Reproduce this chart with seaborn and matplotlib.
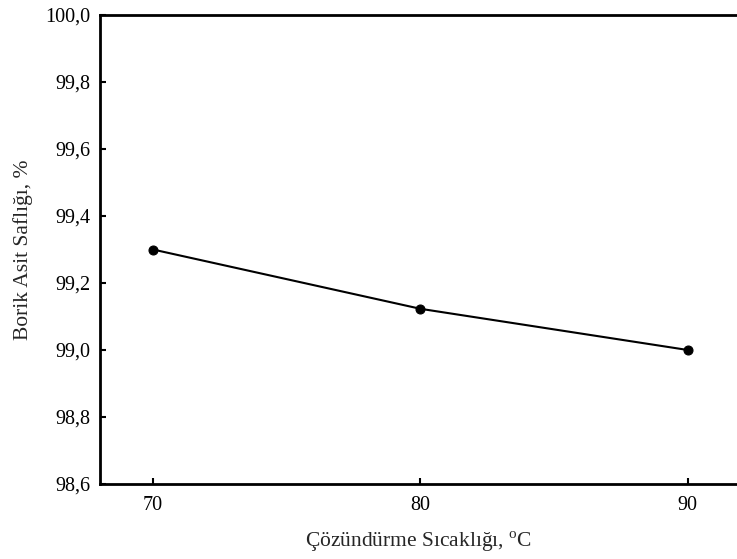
import matplotlib
matplotlib.use("Agg")
import matplotlib.pyplot as plt
import seaborn as sns
import pandas as pd

temperature = [70, 80, 90]
purity = [99.30, 99.123, 99.00]
y_ticks = [98.6, 98.8, 99.0, 99.2, 99.4, 99.6, 99.8, 100.0]
x_ticks = [70, 80, 90]

sns.set_theme(style="white")
plt.rcParams["font.family"] = ["Liberation Serif", "DejaVu Serif"]
plt.rcParams["mathtext.fontset"] = "custom"
plt.rcParams["mathtext.rm"] = "Liberation Serif"

df = pd.DataFrame({"temp": temperature, "purity": purity})

fig = plt.figure(figsize=(7.37, 5.59), dpi=100)
ax = fig.add_axes([100 / 737, 1 - 484 / 559, 1 - 100 / 737, (484 - 15) / 559])

sns.lineplot(data=df, x="temp", y="purity", ax=ax, color="black",
             marker="o", markersize=6.5, linewidth=1.5,
             markeredgecolor="black", markerfacecolor="black")

ax.set_xlim(68.02, 91.84)
ax.set_ylim(98.6, 100.0)
ax.set_xticks(x_ticks)
ax.set_yticks(y_ticks)
ax.set_yticklabels([f"{v:.1f}".replace(".", ",") for v in y_ticks])
ax.set_xticklabels([str(v) for v in x_ticks])

for side in ["left", "bottom", "top"]:
    ax.spines[side].set_visible(True)
    ax.spines[side].set_color("black")
    ax.spines[side].set_linewidth(2.0)
ax.spines["right"].set_visible(False)

ax.tick_params(axis="both", direction="in", length=4, width=1.5,
               labelsize=14.5, colors="black", pad=7)
ax.tick_params(axis="x", pad=9)
ax.tick_params(left=True, bottom=True)

ax.set_xlabel("Çözündürme Sıcaklığı, $^{\\mathregular{o}}$C", fontsize=15.5, labelpad=10)
ax.set_ylabel("Borik Asit Saflığı, %", fontsize=15.5, labelpad=9)
ax.grid(False)

fig.savefig("out.png", dpi=100)
